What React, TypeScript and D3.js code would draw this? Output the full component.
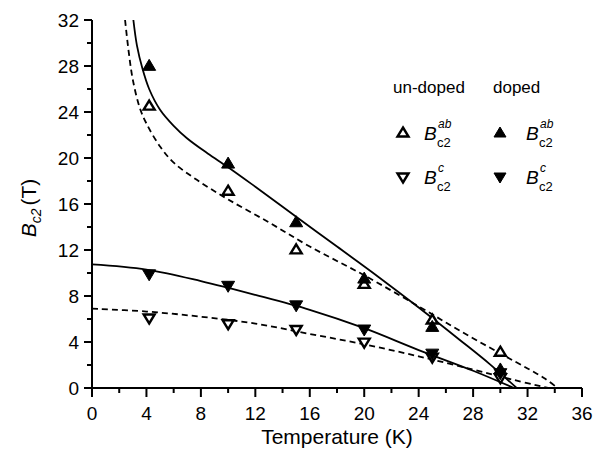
import React from "react";
import * as d3 from "d3";

const temps = [4.2, 10, 15, 20, 25, 30];
const undopedAb = [24.6, 17.2, 12.1, 9.1, 6.0, 3.2];
const dopedAb = [28.1, 19.6, 14.5, 9.6, 5.4, 1.7];
const undopedC = [6.0, 5.5, 5.0, 3.9, 2.6, 0.8];
const dopedC = [9.8, 8.8, 7.1, 5.0, 2.9, 1.2];

// fit curves [T, B]
const dopedAbFit: [number, number][] = [
  [3.04, 32], [3.3, 29.8], [3.7, 27.8], [4.2, 26.0], [5, 24.2], [6, 22.8], [7, 21.7],
  [8.5, 20.4], [10, 19.2], [12, 17.5], [15, 14.9], [18, 12.3], [21, 9.7], [24, 7.0],
  [27, 4.2], [29.2, 2.1], [31.2, 0],
];
const undopedAbFit: [number, number][] = [
  [2.43, 32], [2.7, 29.2], [3.0, 26.8], [3.5, 24.4], [4.0, 23.0], [5.0, 21.0], [6, 19.6],
  [7.7, 18.1], [10, 16.4], [13, 14.4], [16, 12.3], [20, 9.8], [24, 7.1], [27, 5.0],
  [30, 3.0], [32, 1.7], [33.3, 0.8], [34.2, 0],
];
const dopedCFit: [number, number][] = [
  [0, 10.75], [4, 10.3], [8, 9.3], [12, 8.1], [16, 6.8], [20, 5.2], [24, 3.3], [28, 1.5], [31, 0],
];
const undopedCFit: [number, number][] = [
  [0, 6.9], [4, 6.65], [8, 6.2], [12, 5.6], [16, 4.7], [20, 3.8], [24, 2.75], [28, 1.6], [31, 0.7], [33.5, 0],
];

const xTicks = [0, 4, 8, 12, 16, 20, 24, 28, 32, 36];
const yTicks = [0, 4, 8, 12, 16, 20, 24, 28, 32];

const FONT = "'Liberation Sans', Arial, sans-serif";

function tri(cx: number, cy: number, w: number, h: number, up: boolean) {
  if (up) {
    return `M${cx},${cy - h / 2}L${cx + w / 2},${cy + h / 2}L${cx - w / 2},${cy + h / 2}Z`;
  }
  return `M${cx},${cy + h / 2}L${cx + w / 2},${cy - h / 2}L${cx - w / 2},${cy - h / 2}Z`;
}

export default function App() {
  const x = d3.scaleLinear().domain([0, 36]).range([92, 582]);
  const y = d3.scaleLinear().domain([0, 32]).range([388, 20]);
  const line = d3
    .line<[number, number]>()
    .x((d) => x(d[0]))
    .y((d) => y(d[1]))
    .curve(d3.curveCatmullRom.alpha(0.5));

  const minorX = d3.range(2, 36, 4);
  const minorY = d3.range(2, 32, 4);

  const W = 13, H = 11;

  const series = [
    { vals: undopedAb, up: true, filled: false },
    { vals: dopedAb, up: true, filled: true },
    { vals: undopedC, up: false, filled: false },
    { vals: dopedC, up: false, filled: true },
  ];

  return (
    <svg width={604} height={463} style={{ position: "absolute", left: 0, top: 0, background: "#fff" }} fontFamily={FONT}>
      <rect x={0} y={0} width={604} height={463} fill="#fff" />
      {/* curves */}
      <path d={line(dopedAbFit) || ""} fill="none" stroke="#000" strokeWidth={1.8} />
      <path d={line(undopedAbFit) || ""} fill="none" stroke="#000" strokeWidth={1.8} strokeDasharray="6,4" />
      <path d={line(dopedCFit) || ""} fill="none" stroke="#000" strokeWidth={1.8} />
      <path d={line(undopedCFit) || ""} fill="none" stroke="#000" strokeWidth={1.8} strokeDasharray="6,4" />

      {/* markers */}
      {series.map((s, si) =>
        s.vals.map((v, i) => (
          <path
            key={`${si}-${i}`}
            d={tri(x(temps[i]), y(v), s.filled ? W : W - 2, s.filled ? H : H - 2, s.up)}
            fill={s.filled ? "#000" : "#fff"}
            stroke="#000"
            strokeWidth={s.filled ? 1 : 2.4}
            strokeLinejoin="miter"
          />
        ))
      )}

      {/* axes */}
      <line x1={92} x2={92} y1={y(32)} y2={y(0)} stroke="#000" strokeWidth={2} />
      <line x1={92} x2={x(36)} y1={388} y2={388} stroke="#000" strokeWidth={2} />
      {yTicks.map((t) => (
        <g key={`yt${t}`}>
          <line x1={84} x2={92} y1={y(t)} y2={y(t)} stroke="#000" strokeWidth={2} />
          <text x={79} y={y(t)} dy="0.35em" textAnchor="end" fontSize={19}>{t}</text>
        </g>
      ))}
      {minorY.map((t) => (
        <line key={`ym${t}`} x1={87} x2={92} y1={y(t)} y2={y(t)} stroke="#000" strokeWidth={2} />
      ))}
      {xTicks.map((t) => (
        <g key={`xt${t}`}>
          <line x1={x(t)} x2={x(t)} y1={388} y2={397} stroke="#000" strokeWidth={2} />
          <text x={x(t)} y={420} textAnchor="middle" fontSize={19}>{t}</text>
        </g>
      ))}
      {minorX.map((t) => (
        <line key={`xm${t}`} x1={x(t)} x2={x(t)} y1={388} y2={393} stroke="#000" strokeWidth={2} />
      ))}

      {/* axis titles */}
      <text x={337} y={444} textAnchor="middle" fontSize={21}>Temperature (K)</text>
      <text transform="translate(36,208) rotate(-90)" textAnchor="middle" fontSize={21}>
        <tspan fontStyle="italic">B</tspan>
        <tspan fontSize={14} fontStyle="italic" dy={5}>c2</tspan>
        <tspan dy={-5} dx={3}>(T)</tspan>
      </text>

      {/* legend */}
      <text x={393} y={93} fontSize={17}>un-doped</text>
      <text x={493} y={93} fontSize={17}>doped</text>

      <path d={tri(403, 132, 11, 9, true)} fill="#fff" stroke="#000" strokeWidth={2.4} />
      <path d={tri(500, 132, 12, 10, true)} fill="#000" stroke="#000" strokeWidth={1} />
      <path d={tri(403, 178, 11, 9, false)} fill="#fff" stroke="#000" strokeWidth={2.4} />
      <path d={tri(500, 178, 12, 10, false)} fill="#000" stroke="#000" strokeWidth={1} />

      {[
        { bx: 424, by: 140, sup: "ab" },
        { bx: 526, by: 140, sup: "ab" },
        { bx: 424, by: 184, sup: "c" },
        { bx: 526, by: 184, sup: "c" },
      ].map((l, i) => (
        <g key={`lg${i}`}>
          <text x={l.bx} y={l.by} fontSize={19} fontStyle="italic">B</text>
          <text x={l.bx + 14} y={l.by - 12} fontSize={12} fontStyle="italic">{l.sup}</text>
          <text x={l.bx + 13} y={l.by + 7} fontSize={13}>c2</text>
        </g>
      ))}
    </svg>
  );
}
